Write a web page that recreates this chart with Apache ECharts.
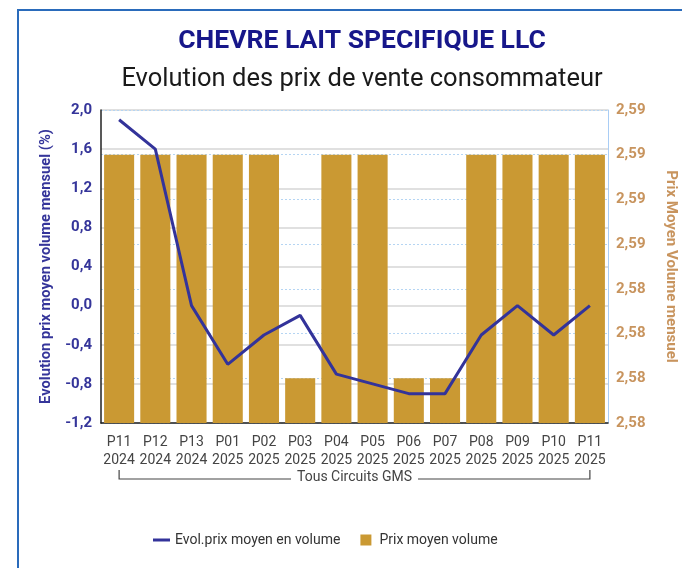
<!DOCTYPE html>
<html>
<head>
<meta charset="utf-8">
<script src="https://cdn.jsdelivr.net/npm/echarts@6/dist/echarts.min.js"></script>
<style>
  html, body { margin: 0; padding: 0; background: #fff; }
  #main { width: 682px; height: 568px; }
</style>
</head>
<body>
<div id="main"></div>
<script>
const categories = ['P11\n2024','P12\n2024','P13\n2024','P01\n2025','P02\n2025','P03\n2025','P04\n2025','P05\n2025','P06\n2025','P07\n2025','P08\n2025','P09\n2025','P10\n2025','P11\n2025'];
const evolPrix = [1.9, 1.6, 0.0, -0.6, -0.3, -0.1, -0.7, -0.8, -0.9, -0.9, -0.3, 0.0, -0.3, 0.0];
const prixMoyen = [2.59, 2.59, 2.59, 2.59, 2.59, 2.58, 2.59, 2.59, 2.58, 2.58, 2.59, 2.59, 2.59, 2.59];
const groupLabel = 'Tous Circuits GMS';
const titleText = 'CHEVRE LAIT SPECIFIQUE LLC';
const subtitleText = 'Evolution des prix de vente consommateur';

const chart = echarts.init(document.getElementById('main'));
const FONT = 'Roboto, "Noto Sans", sans-serif';
const option = {
  backgroundColor: '#ffffff',
  animation: false,
  textStyle: { fontFamily: FONT },
  title: [
    { text: titleText, left: 357, textAlign: 'center', top: 23, textStyle: { fontFamily: FONT, fontSize: 26.5, fontWeight: 'bold', color: '#17178a' } },
    { text: subtitleText, left: 357, textAlign: 'center', top: 62, textStyle: { fontFamily: FONT, fontSize: 25.5, fontWeight: 'normal', color: '#1a1a1a' } }
  ],
  legend: {
    bottom: 16, left: 148, itemGap: 20, itemWidth: 17, itemHeight: 11,
    textStyle: { fontSize: 14, color: '#333' },
    data: [
      { name: 'Evol.prix moyen en volume', icon: 'path://M0,4h17v3h-17z' },
      { name: 'Prix moyen volume', icon: 'path://M3,0h11v11h-11z' }
    ]
  },
  grid: { left: 101, right: 74, top: 110, bottom: 145, outerBoundsMode: 'none', containLabel: false },
  xAxis: {
    type: 'category', data: categories,
    axisLine: { onZero: false, lineStyle: { color: '#222', width: 1.5 } },
    axisTick: { show: false },
    axisLabel: { interval: 0, fontSize: 14, color: '#444', lineHeight: 18, margin: 10 }
  },
  yAxis: [
    {
      type: 'value', min: -1.2, max: 2.0, interval: 0.4, position: 'left',
      name: 'Evolution prix moyen volume mensuel (%)', nameLocation: 'middle', nameGap: 46,
      nameTextStyle: { fontSize: 14.7, fontWeight: 'bold', color: '#35359a' },
      axisLine: { show: true, lineStyle: { color: '#222', width: 1.5 } },
      axisTick: { show: false },
      axisLabel: { fontSize: 15, fontWeight: 'bold', color: '#35359a', margin: 9, formatter: v => v.toFixed(1).replace('.', ',') },
      splitLine: { show: true, lineStyle: { color: '#d6d6d6', width: 1.5 } }
    },
    {
      type: 'value', min: 2.578, max: 2.592, interval: 0.002, position: 'right',
      name: 'Prix Moyen Volume mensuel', nameLocation: 'middle', nameGap: 55, nameRotate: -90,
      nameTextStyle: { fontSize: 15, fontWeight: 'bold', color: '#c8945e' },
      axisLine: { show: true, lineStyle: { color: '#a9cdf5', width: 1 } },
      axisTick: { show: false },
      axisLabel: { fontSize: 15, fontWeight: 'bold', color: '#c8945e', margin: 8, formatter: v => v.toFixed(2).replace('.', ',') },
      splitLine: { show: true, lineStyle: { color: '#b5d5f3', width: 1, type: [2, 2] } }
    }
  ],
  series: [
    {
      name: 'Prix moyen volume', type: 'bar', yAxisIndex: 1, data: prixMoyen,
      barCategoryGap: '17%', itemStyle: { color: '#ca9933' }, z: 2
    },
    {
      name: 'Evol.prix moyen en volume', type: 'line', yAxisIndex: 0, data: evolPrix,
      symbol: 'none', lineStyle: { color: '#33339a', width: 3 }, itemStyle: { color: '#33339a' }, z: 3
    }
  ]
};
chart.setOption(option);

// decorative frame + group bracket under the category labels
const p0 = chart.convertToPixel({ xAxisIndex: 0, yAxisIndex: 0 }, [0, -1.2]);
const p1 = chart.convertToPixel({ xAxisIndex: 0, yAxisIndex: 0 }, [categories.length - 1, -1.2]);
const by = p0[1] + 56;
chart.setOption({
  graphic: [
    { type: 'rect', shape: { x: 18, y: 10, width: 720, height: 620 }, style: { fill: 'none', stroke: '#2a6bbb', lineWidth: 2 }, silent: true },
    { type: 'polyline', shape: { points: [[p0[0], by - 9], [p0[0], by], [p1[0], by], [p1[0], by - 9]] }, style: { fill: 'none', stroke: '#444', lineWidth: 1.2 }, silent: true },
    { type: 'text', x: (p0[0] + p1[0]) / 2, y: by - 2, style: { text: groupLabel, fill: '#444', font: '14px ' + FONT, textAlign: 'center', textVerticalAlign: 'middle', backgroundColor: '#fff', padding: [0, 6] }, silent: true }
  ]
});
</script>
</body>
</html>
